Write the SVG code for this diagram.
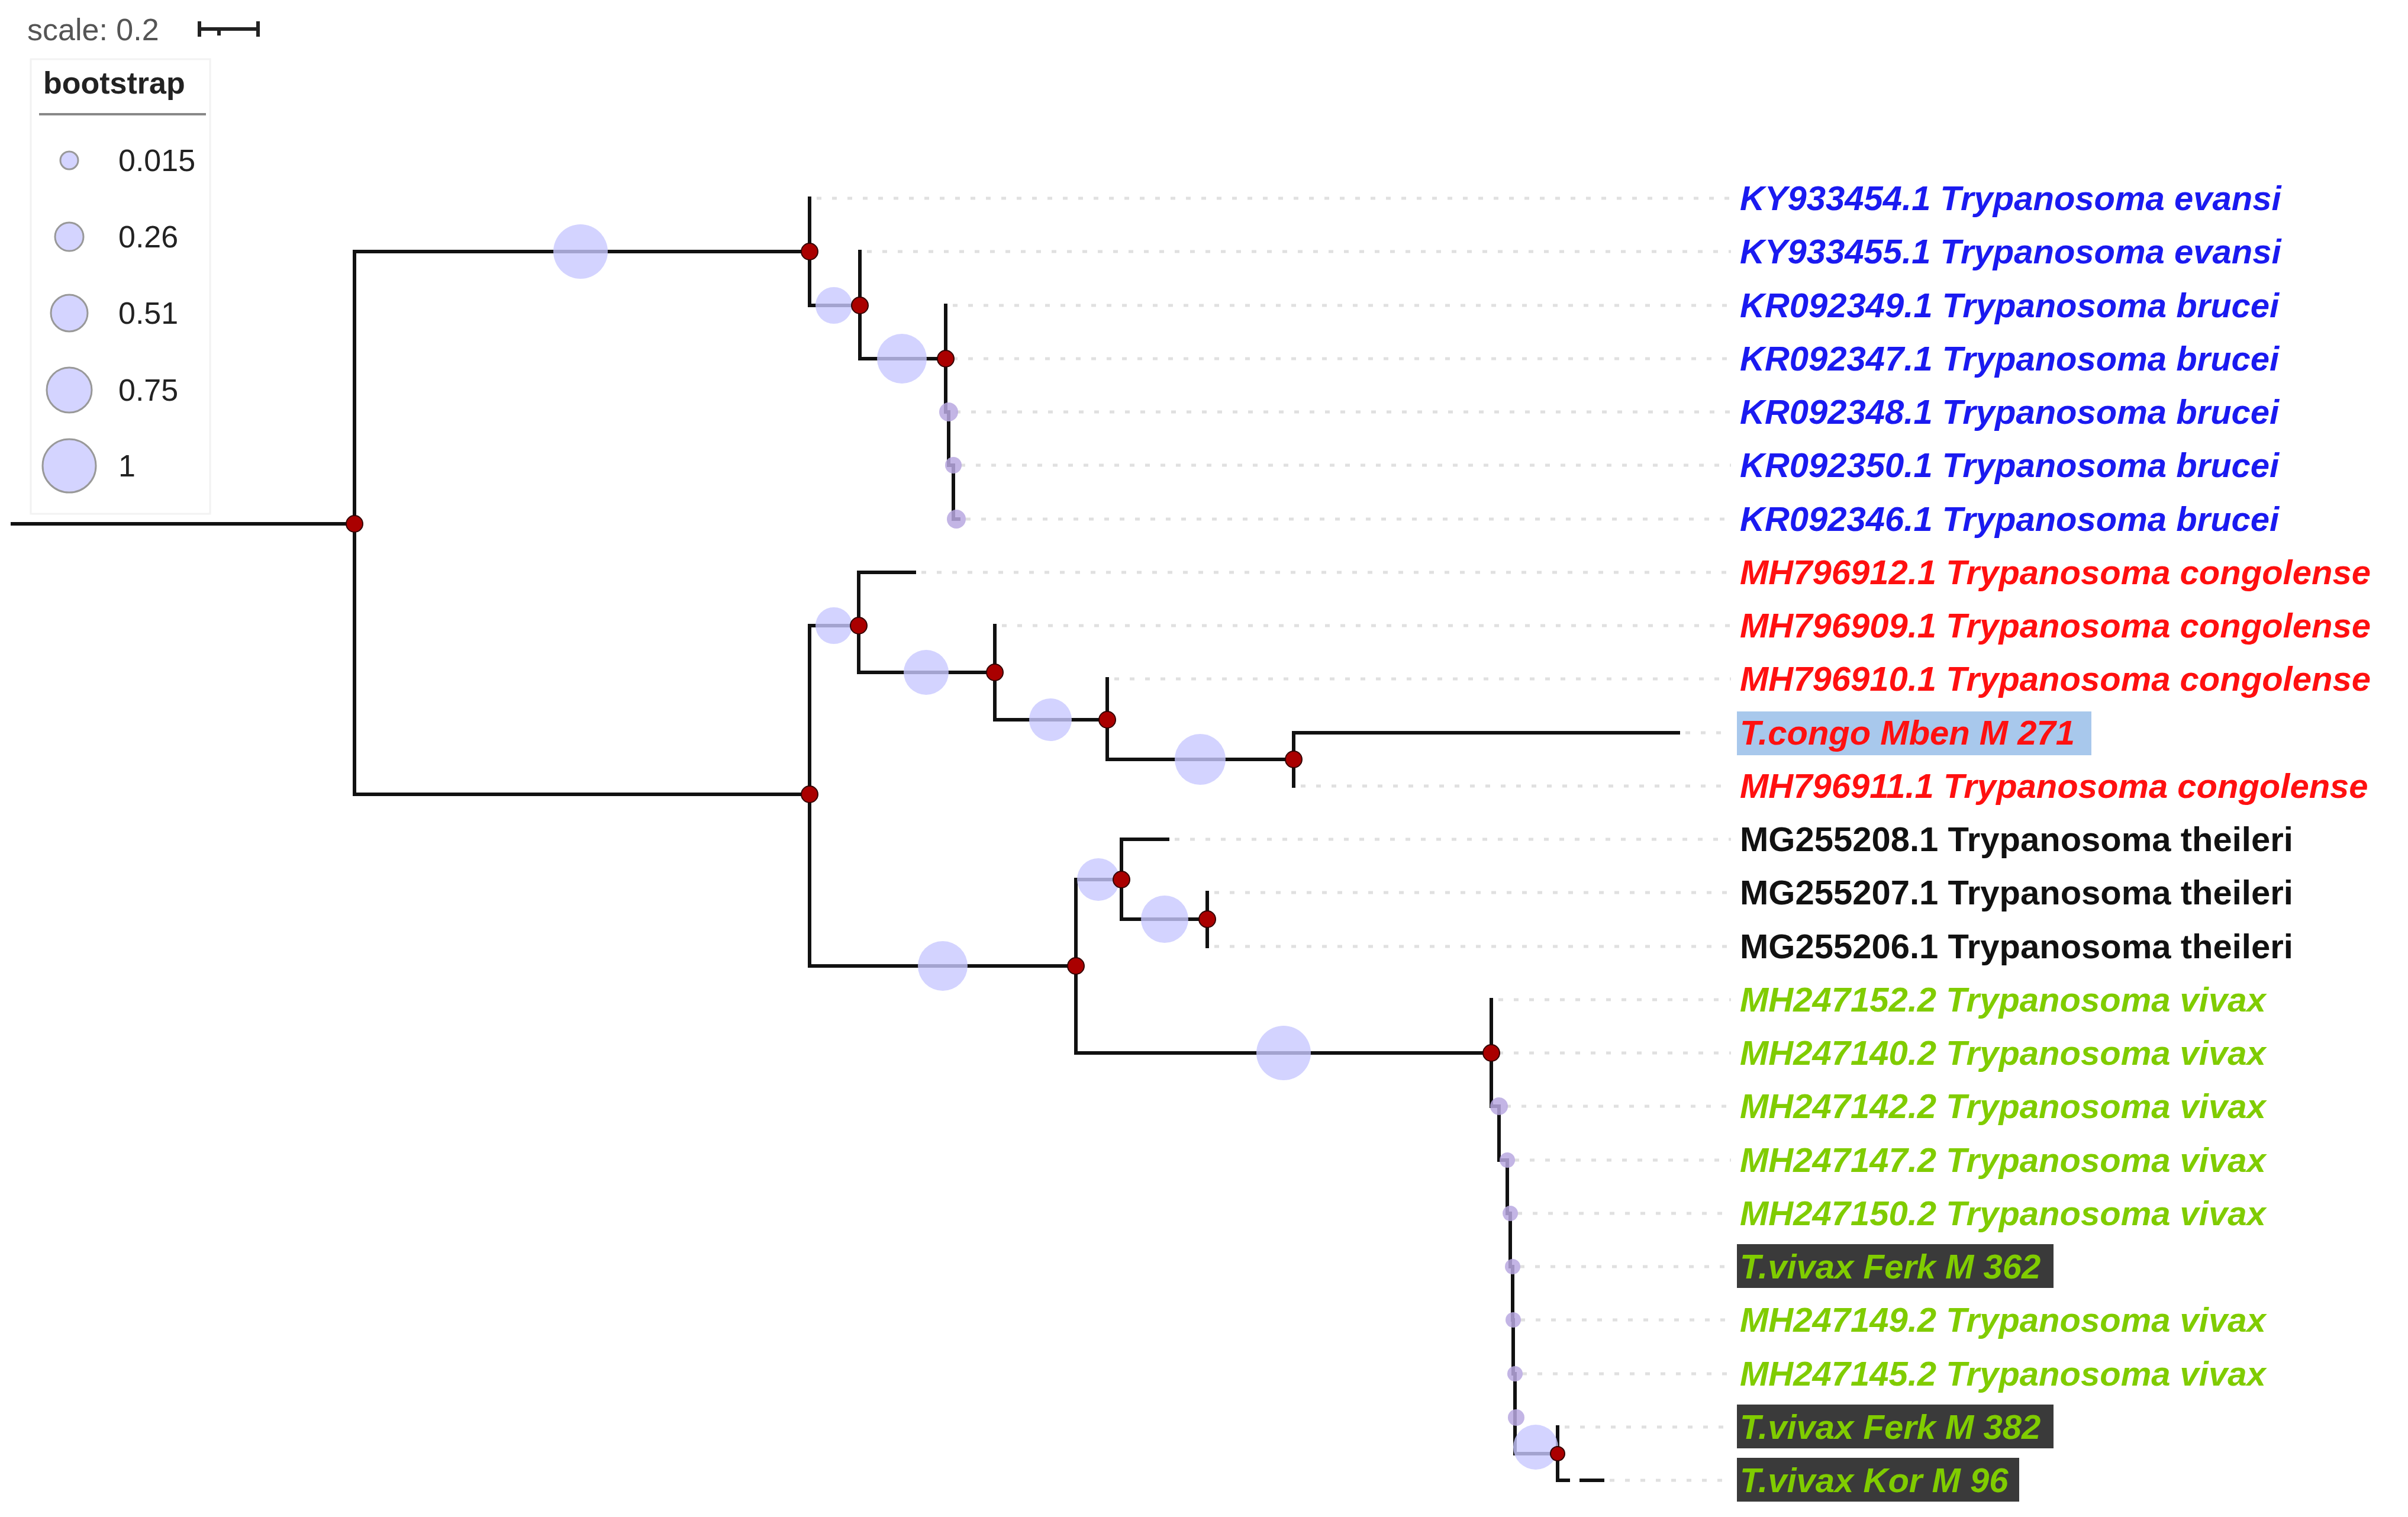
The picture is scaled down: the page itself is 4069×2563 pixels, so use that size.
<svg xmlns="http://www.w3.org/2000/svg" width="4069" height="2563" viewBox="0 0 4069 2563">
<style>
.br{stroke:#111;stroke-width:6;fill:none;stroke-linecap:square}
.dot{stroke:#e0e0e0;stroke-width:5;stroke-dasharray:8 18;fill:none}
.bs{fill:#c8c8ff;fill-opacity:0.8}
.bsl{fill:#d4d4ff;stroke:#999;stroke-width:3}
.rn{fill:#aa0000;stroke:#300;stroke-width:2}
.sm{fill:#b8a8e0;fill-opacity:0.85}
.lb{font-family:"Liberation Sans",Arial,sans-serif;font-size:58px;font-style:italic;font-weight:bold}
.lg{font-family:"Liberation Sans",Arial,sans-serif;font-size:52px;fill:#222}
</style>
<rect width="4069" height="2563" fill="#fff"/>
<g id="legend">
<text x="46" y="68" class="lg" fill="#555" style="fill:#555">scale: 0.2</text>
<path d="M337 49H436M337 36V62M436 36V62M370 49V60" stroke="#222" stroke-width="6" fill="none"/>
<rect x="52" y="100" width="303" height="768" fill="none" stroke="#f2f2f2" stroke-width="3"/>
<text x="73" y="158" class="lg" font-weight="bold">bootstrap</text>
<line x1="66" y1="193" x2="348" y2="193" stroke="#888" stroke-width="4"/>
<circle cx="117" cy="271" r="15" class="bsl"/><text x="200" y="289" class="lg">0.015</text>
<circle cx="117" cy="400" r="24" class="bsl"/><text x="200" y="418" class="lg">0.26</text>
<circle cx="117" cy="529" r="31" class="bsl"/><text x="200" y="547" class="lg">0.51</text>
<circle cx="117" cy="659" r="38" class="bsl"/><text x="200" y="677" class="lg">0.75</text>
<circle cx="117" cy="787" r="45" class="bsl"/><text x="200" y="805" class="lg">1</text>
</g>
<g id="guides">
<path class="dot" d="M1380 335H2925M1465 425H2925M1610 516H2925M1610 606H2925M1615 696H2925M1623 786H2925M1632 877H2925M1557 967H2925M1693 1057H2925M1883 1147H2925M2848 1238H2925M2198 1328H2925M1985 1418H2925M2052 1508H2925M2052 1599H2925M2532 1689H2925M2532 1779H2925M2545 1869H2925M2559 1960H2925M2564 2050H2925M2568 2140H2925M2569 2230H2925M2572 2321H2925M2644 2411H2925M2720 2501H2925"/>
</g>
<g id="connectors">
<path class="br" d="M21 885H599M599 425V1342M599 425H1368M1368 335V516M1368 516H1453M1453 425V606M1453 606H1598M1598 516V696H1603V786H1611V877H1620"/>
<path class="br" d="M599 1342H1368M1368 1057V1632M1368 1057H1451M1451 967V1136M1451 967H1545M1451 1136H1681M1681 1057V1216M1681 1216H1871M1871 1147V1283M1871 1283H2186M2186 1238V1328M2186 1238H2836"/>
<path class="br" d="M1368 1632H1818M1818 1486V1779M1818 1486H1895M1895 1418V1553M1895 1418H1973M1895 1553H2040M2040 1508V1599M1818 1779H2520M2520 1689V1869H2533V1960H2547V2050H2552V2140H2556V2230H2557V2321H2560V2456H2632M2632 2411V2501"/>
<path d="M2632 2501H2650M2672 2501H2708" class="br"/>
</g>
<g id="bootstrap">
<circle cx="981" cy="425" r="46" class="bs"/>
<circle cx="1409" cy="516" r="31" class="bs"/>
<circle cx="1524" cy="606" r="42" class="bs"/>
<circle cx="1409" cy="1057" r="31" class="bs"/>
<circle cx="1565" cy="1136" r="38" class="bs"/>
<circle cx="1775" cy="1216" r="36" class="bs"/>
<circle cx="2028" cy="1283" r="43" class="bs"/>
<circle cx="1593" cy="1632" r="42" class="bs"/>
<circle cx="1856" cy="1486" r="36" class="bs"/>
<circle cx="1968" cy="1553" r="40" class="bs"/>
<circle cx="2169" cy="1779" r="46" class="bs"/>
<circle cx="2595" cy="2445" r="38" class="bs"/>
</g>
<g id="nodes">
<circle cx="599" cy="885" r="14" class="rn"/>
<circle cx="1368" cy="425" r="14" class="rn"/>
<circle cx="1453" cy="516" r="14" class="rn"/>
<circle cx="1598" cy="606" r="14" class="rn"/>
<circle cx="1368" cy="1342" r="14" class="rn"/>
<circle cx="1451" cy="1057" r="14" class="rn"/>
<circle cx="1681" cy="1136" r="14" class="rn"/>
<circle cx="1871" cy="1216" r="14" class="rn"/>
<circle cx="2186" cy="1283" r="14" class="rn"/>
<circle cx="1818" cy="1632" r="14" class="rn"/>
<circle cx="1895" cy="1486" r="14" class="rn"/>
<circle cx="2040" cy="1553" r="14" class="rn"/>
<circle cx="2520" cy="1779" r="14" class="rn"/>
<circle cx="2632" cy="2456" r="12" class="rn"/>
<g class="sm">
<circle cx="1603" cy="696" r="16"/><circle cx="1611" cy="786" r="14"/><circle cx="1616" cy="877" r="16"/>
<circle cx="2533" cy="1869" r="15"/><circle cx="2547" cy="1960" r="13"/><circle cx="2552" cy="2050" r="13"/><circle cx="2556" cy="2140" r="13"/><circle cx="2557" cy="2230" r="13"/><circle cx="2560" cy="2321" r="13"/><circle cx="2562" cy="2395" r="14"/>
</g>
</g>
<g id="labels" class="lb">
<rect x="2935" y="1202" width="599" height="74" fill="#a8c8ec"/>
<rect x="2935" y="2102" width="535" height="74" fill="#3a3a3a"/>
<rect x="2935" y="2373" width="535" height="74" fill="#3a3a3a"/>
<rect x="2935" y="2463" width="477" height="74" fill="#3a3a3a"/>
<g fill="#1a1af0">
<text x="2940" y="355">KY933454.1 Trypanosoma evansi</text>
<text x="2940" y="445">KY933455.1 Trypanosoma evansi</text>
<text x="2940" y="536">KR092349.1 Trypanosoma brucei</text>
<text x="2940" y="626">KR092347.1 Trypanosoma brucei</text>
<text x="2940" y="716">KR092348.1 Trypanosoma brucei</text>
<text x="2940" y="806">KR092350.1 Trypanosoma brucei</text>
<text x="2940" y="897">KR092346.1 Trypanosoma brucei</text>
</g>
<g fill="#ff1010">
<text x="2940" y="987">MH796912.1 Trypanosoma congolense</text>
<text x="2940" y="1077">MH796909.1 Trypanosoma congolense</text>
<text x="2940" y="1167">MH796910.1 Trypanosoma congolense</text>
<text x="2940" y="1258">T.congo Mben M 271</text>
<text x="2940" y="1348">MH796911.1 Trypanosoma congolense</text>
</g>
<g fill="#111" font-style="normal">
<text x="2940" y="1438">MG255208.1 Trypanosoma theileri</text>
<text x="2940" y="1528">MG255207.1 Trypanosoma theileri</text>
<text x="2940" y="1619">MG255206.1 Trypanosoma theileri</text>
</g>
<g fill="#80cc00">
<text x="2940" y="1709">MH247152.2 Trypanosoma vivax</text>
<text x="2940" y="1799">MH247140.2 Trypanosoma vivax</text>
<text x="2940" y="1889">MH247142.2 Trypanosoma vivax</text>
<text x="2940" y="1980">MH247147.2 Trypanosoma vivax</text>
<text x="2940" y="2070">MH247150.2 Trypanosoma vivax</text>
<text x="2940" y="2160">T.vivax Ferk M 362</text>
<text x="2940" y="2250">MH247149.2 Trypanosoma vivax</text>
<text x="2940" y="2341">MH247145.2 Trypanosoma vivax</text>
<text x="2940" y="2431">T.vivax Ferk M 382</text>
<text x="2940" y="2521">T.vivax Kor M 96</text>
</g>
</g>
</svg>
